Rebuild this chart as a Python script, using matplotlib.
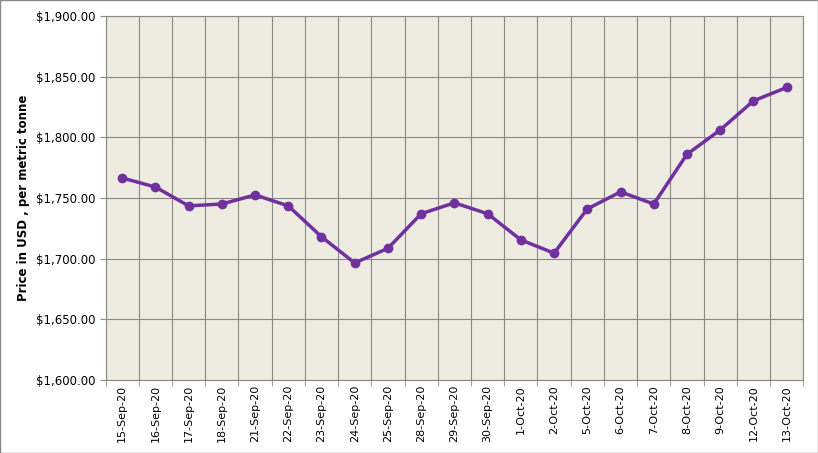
import matplotlib
matplotlib.use("Agg")
import matplotlib.pyplot as plt
from matplotlib.ticker import FuncFormatter, MultipleLocator

dates = ["15-Sep-20","16-Sep-20","17-Sep-20","18-Sep-20","21-Sep-20","22-Sep-20","23-Sep-20",
         "24-Sep-20","25-Sep-20","28-Sep-20","29-Sep-20","30-Sep-20","1-Oct-20","2-Oct-20",
         "5-Oct-20","6-Oct-20","7-Oct-20","8-Oct-20","9-Oct-20","12-Oct-20","13-Oct-20"]
prices = [1766.5,1759,1743.5,1745,1752.5,1743.5,1718,1696.5,1708.5,1737,1746,1737,
          1715.5,1704.5,1741,1755,1745,1786,1806,1830,1841]

fig = plt.figure(figsize=(8.18,4.53), dpi=100)
ax = fig.add_axes([0.129, 0.161, 0.853, 0.804])
ax.set_facecolor("#EEECE1")
x = range(len(dates))
ax.plot(x, prices, color="#7030A0", lw=2.5, marker="o", ms=6, zorder=3)
ax.set_xlim(-0.5, len(dates)-0.5)
ax.set_ylim(1600, 1900)
ax.yaxis.set_major_locator(MultipleLocator(50))
ax.yaxis.set_major_formatter(FuncFormatter(lambda v, p: f"${v:,.2f}"))
ax.set_xticks(list(x))
ax.set_xticklabels(dates, rotation=90, fontsize=8)
ax.set_xticks([i+0.5 for i in range(-1, len(dates))], minor=True)
ax.tick_params(axis="x", which="major", length=0)
ax.tick_params(axis="x", which="minor", length=4, color="#888888")
ax.tick_params(axis="y", labelsize=8.5, length=4, color="#888888")
ax.grid(True, which="minor", axis="x", color="#888888", lw=0.8)
ax.grid(True, which="major", axis="y", color="#888888", lw=0.8)
for s in ax.spines.values():
    s.set_color("#888888")
ax.set_ylabel("Price in USD , per metric tonne", fontsize=8.5, fontweight="bold")
fig.patches.append(plt.Rectangle((0,0),1,1,transform=fig.transFigure,fill=False,ec="#888888",lw=1))
fig.savefig("out.png", dpi=100)
